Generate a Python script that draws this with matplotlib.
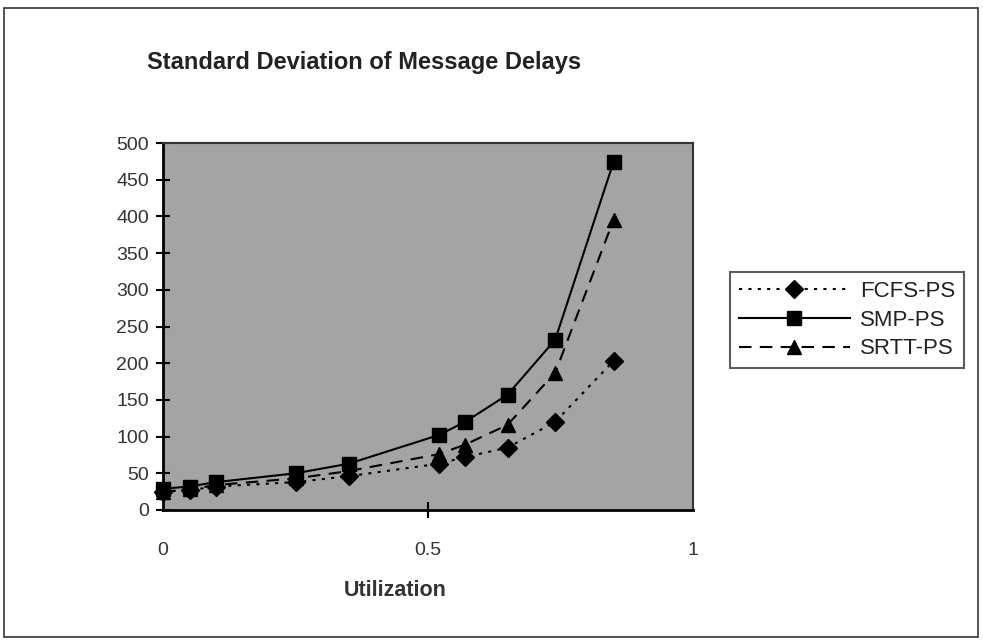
import matplotlib
matplotlib.use("Agg")
import matplotlib.pyplot as plt
from matplotlib.lines import Line2D
from matplotlib.patches import Rectangle

plt.rcParams['font.family'] = ['Liberation Sans', 'DejaVu Sans']

utilization = [0, 0.05, 0.1, 0.25, 0.35, 0.52, 0.57, 0.65, 0.74, 0.85]
fcfs_ps = [25, 27, 32, 38, 46, 63, 72, 85, 120, 203]
smp_ps = [29, 32, 38, 50, 63, 102, 120, 157, 232, 474]
srtt_ps = [25, 28, 34, 43, 53, 76, 89, 116, 187, 395]
series_names = ["FCFS-PS", "SMP-PS", "SRTT-PS"]
x_ticks = [0, 0.5, 1]
x_tick_labels = ["0", "0.5", "1"]
y_ticks = list(range(0, 501, 50))

W, H = 983, 642
fig = plt.figure(figsize=(W / 100, H / 100), dpi=100)
fig.patch.set_facecolor('white')

# outer frame
fig.add_artist(Rectangle((4 / W, 5 / H), (W - 9) / W, (H - 13) / H,
                         transform=fig.transFigure, fill=False,
                         edgecolor='#333333', linewidth=1.2))

ax = fig.add_axes([163 / W, (H - 510) / H, 530 / W, 367 / H])
ax.set_facecolor('#a4a4a4')

styles = [
    dict(linestyle=(0, (1.5, 3)), marker='D', markersize=9),
    dict(linestyle='-', marker='s', markersize=9.5),
    dict(linestyle=(0, (6, 4)), marker='^', markersize=10.5),
]
for vals, st in zip([fcfs_ps, smp_ps, srtt_ps], styles):
    ax.plot(utilization, vals, color='black', linewidth=1.5,
            markerfacecolor='black', markeredgecolor='black', clip_on=False, **st)

ax.set_xlim(0, 1)
ax.set_ylim(0, 500)
ax.set_xticks(x_ticks)
ax.set_xticklabels(x_tick_labels)
ax.set_yticks(y_ticks)
ax.tick_params(axis='y', direction='inout', length=10, width=1.5,
               labelsize=14, labelcolor='#333333', pad=5)
ax.tick_params(axis='x', direction='inout', length=12, width=1.5,
               labelsize=14, labelcolor='#333333', pad=17)
ax.xaxis.get_major_ticks()[0].tick1line.set_visible(False)
ax.xaxis.get_major_ticks()[-1].tick1line.set_visible(False)
for s in ['left', 'bottom']:
    ax.spines[s].set_linewidth(2)
    ax.spines[s].set_color('black')
for s in ['top', 'right']:
    ax.spines[s].set_linewidth(1.5)
    ax.spines[s].set_color('#333333')

fig.text(147 / W, 1 - 62 / H, "Standard Deviation of Message Delays",
         fontsize=17, fontweight='bold', color='#222222', va='center', ha='left')
fig.text(395 / W, 1 - 591 / H, "Utilization", fontsize=15.5, fontweight='bold',
         color='#333333', va='center', ha='center')

handles = [Line2D([], [], color='black', linewidth=1.5, **st) for st in styles]
leg = fig.legend(handles, series_names, loc='upper left',
                 bbox_to_anchor=(730 / W, 1 - 272 / H), fontsize=16,
                 frameon=True, fancybox=False, edgecolor='#333333',
                 handlelength=5.0, handletextpad=0.45, labelspacing=0.35,
                 borderpad=0.4, borderaxespad=0)
leg.get_frame().set_linewidth(1.5)
for t in leg.get_texts():
    t.set_color('#222222')

fig.savefig('out.png', dpi=100)
